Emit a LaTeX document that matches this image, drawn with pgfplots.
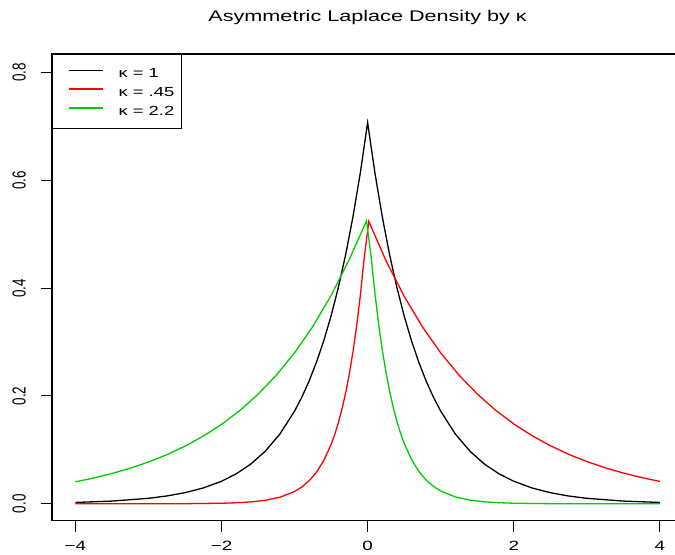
\documentclass[border=0pt]{standalone}
\usepackage{fontspec}
\setmainfont{Liberation Sans}
\usepackage{graphicx}
\usepackage{pgfplots}
\pgfplotsset{compat=1.18}
\newcommand{\hs}[1]{\scalebox{1.4}[1]{#1}}
\newcommand{\vs}[1]{\rotatebox{90}{\scalebox{1}[1.4]{#1}}}
\definecolor{rgreen}{RGB}{0,205,0}
\definecolor{rred}{RGB}{255,0,0}
\begin{document}
\begin{tikzpicture}
\begin{axis}[
  name=ax,
  x=73.06bp, y=539bp,
  xmin=-4.32, xmax=4.32, ymin=-0.0311, ymax=0.8345,
  axis line style={black, line width=1.2bp},
  tick align=outside, major tick length=11bp,
  tick style={black, line width=1bp},
  xtick pos=bottom, ytick pos=left,
  xtick={-4,-2,0,2,4},
  xticklabels={\hs{−4},\hs{−2},\hs{0},\hs{2},\hs{4}},
  ytick={0,0.2,0.4,0.6,0.8},
  yticklabels={\vs{0.0},\vs{0.2},\vs{0.4},\vs{0.6},\vs{0.8}},
  ticklabel style={font=\fontsize{13.5}{15}\selectfont},
  xticklabel style={anchor=base, yshift=-19bp},
  yticklabel style={anchor=east, inner sep=0pt, xshift=-15bp},
  title={\hs{Asymmetric Laplace Density by κ}},
  title style={font=\fontsize{15.5}{17}\selectfont, at={(0.5,1)}, anchor=base, yshift=27bp},
  legend style={at={(0,1)}, anchor=north west, draw=black, line width=1bp, fill=white,
    inner xsep=0pt, inner ysep=13.5bp, row sep=8.7bp, /tikz/column sep=0pt,
    font=\fontsize{13.2}{14}\selectfont,
    nodes={inner sep=0pt, text depth=0pt, text height=10bp}},
  legend image code/.code={\path[draw=none] (0bp,-3bp) rectangle (66bp,4bp); \draw[#1, line width=1.6bp] (16bp,2.5bp) -- (50bp,2.5bp);},
  legend cell align=left,
]
\addplot[black, line width=1.3bp] coordinates {
(-4,0.00247) (-3.5,0.00501) (-3,0.01016) (-2.75,0.01447) (-2.5,0.02061) (-2.25,0.02934) (-2,0.04179)
(-1.8,0.05546) (-1.6,0.07358) (-1.4,0.09764) (-1.2,0.12956) (-1,0.17190) (-0.9,0.19802) (-0.8,0.22810)
(-0.7,0.26275) (-0.6,0.30266) (-0.5,0.34865) (-0.4,0.40161) (-0.3,0.46262) (-0.2,0.53290) (-0.1,0.61386)
(0,0.70711)
(0.1,0.61386) (0.2,0.53290) (0.3,0.46262) (0.4,0.40161) (0.5,0.34865) (0.6,0.30266) (0.7,0.26275)
(0.8,0.22810) (0.9,0.19802) (1,0.17190) (1.2,0.12956) (1.4,0.09764) (1.6,0.07358) (1.8,0.05546)
(2,0.04179) (2.25,0.02934) (2.5,0.02061) (2.75,0.01447) (3,0.01016) (3.5,0.00501) (4,0.00247)
};
\addlegendentry{\makebox[63bp][l]{\hs{κ = 1}}}
\addplot[rred, line width=1.3bp] coordinates {
(-4,0) (-3,0.00004) (-2.5,0.00021) (-2,0.00099) (-1.8,0.00185) (-1.6,0.00347) (-1.4,0.00650)
(-1.2,0.01218) (-1,0.02284) (-0.9,0.03128) (-0.8,0.04283) (-0.7,0.05864) (-0.6,0.08030) (-0.5,0.10995)
(-0.45,0.12866) (-0.4,0.15056) (-0.35,0.17618) (-0.3,0.20615) (-0.25,0.24123) (-0.2,0.28228)
(-0.15,0.33031) (-0.1,0.38651) (-0.05,0.45227) (0.016,0.5240)
(0.25,0.45139) (0.5,0.38499) (0.75,0.32836) (1,0.28006) (1.25,0.23887) (1.5,0.20373) (1.75,0.17377)
(2,0.14821) (2.25,0.12641) (2.5,0.10781) (2.75,0.09195) (3,0.07843) (3.25,0.06689) (3.5,0.05706)
(3.75,0.04866) (4,0.04150)
};
\addlegendentry{\makebox[63bp][l]{\hs{κ = .45}}}
\addplot[rgreen, line width=1.3bp] coordinates {
(-4,0.04072) (-3.75,0.04782) (-3.5,0.05616) (-3.25,0.06595) (-3,0.07745) (-2.75,0.09095) (-2.5,0.10680)
(-2.25,0.12543) (-2,0.14729) (-1.75,0.17297) (-1.5,0.20312) (-1.25,0.23853) (-1,0.28012) (-0.75,0.32896)
(-0.5,0.38631) (-0.25,0.45366) (-0.015,0.5250)
(0.05,0.45600) (0.1,0.39030) (0.15,0.33407) (0.2,0.28594) (0.25,0.24475) (0.3,0.20949) (0.35,0.17931)
(0.4,0.15347) (0.45,0.13136) (0.5,0.11244) (0.6,0.08238) (0.7,0.06036) (0.8,0.04422) (0.9,0.03240)
(1,0.02373) (1.2,0.01274) (1.4,0.00684) (1.6,0.00367) (1.8,0.00197) (2,0.00105) (2.5,0.00022)
(3,0.00005) (4,0)
};
\addlegendentry{\makebox[63bp][l]{\hs{κ = 2.2}}}
\end{axis}
\pgfresetboundingbox
\useasboundingbox ([xshift=-52bp,yshift=-34bp]ax.south west) rectangle ([xshift=623bp,yshift=54bp]ax.north west);
\end{tikzpicture}
\end{document}
